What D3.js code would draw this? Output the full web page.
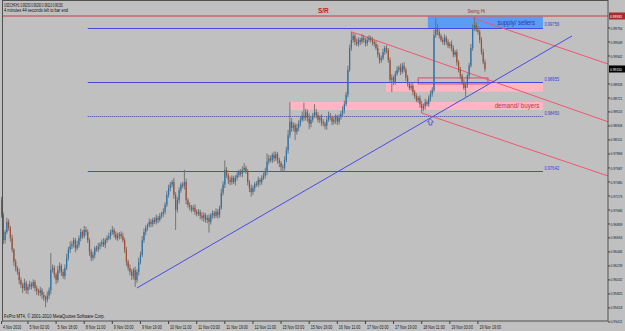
<!DOCTYPE html>
<html>
<head>
<meta charset="utf-8">
<script src="https://cdn.jsdelivr.net/npm/d3@7"></script>
<style>
body { margin: 0; background: #c0c0c0; }
svg { display: block; }
text { font-family: "Liberation Sans", Arial, sans-serif; }
</style>
</head>
<body>
<svg width="625" height="331"></svg>
<script>
// USDCHF H1, 4 Nov - 19 Nov 2010, prices in pips (x 0.0001)
const symbol = "USDCHF,H1";
const firstOpen = 9721;
const closes = [
    9699,9662,9674,9689,9680,9665,9648,9630,9621,9615,
    9603,9596,9591,9599,9588,9593,9597,9594,9600,9591,
    9587,9584,9588,9581,9577,9574,9580,9588,9618,9621,
    9611,9603,9618,9624,9615,9609,9621,9636,9648,9653,
    9656,9662,9650,9655,9665,9674,9668,9677,9674,9662,
    9645,9636,9640,9650,9648,9653,9656,9659,9655,9662,
    9665,9668,9674,9677,9671,9665,9668,9671,9668,9662,
    9648,9630,9621,9615,9609,9618,9603,9615,9630,9640,
    9662,9674,9680,9684,9689,9686,9692,9689,9695,9692,
    9698,9701,9704,9714,9729,9739,9744,9748,9729,9707,
    9721,9736,9744,9742,9748,9721,9714,9711,9707,9710,
    9704,9701,9704,9698,9695,9699,9692,9695,9689,9699,
    9702,9698,9704,9699,9710,9732,9744,9766,9758,9751,
    9748,9754,9748,9754,9758,9763,9760,9766,9769,9763,
    9748,9739,9733,9739,9745,9744,9751,9748,9754,9757,
    9763,9778,9783,9780,9788,9783,9789,9780,9776,9770,
    9769,9780,9795,9817,9837,9828,9832,9822,9828,9834,
    9840,9846,9843,9851,9843,9834,9840,9846,9851,9847,
    9840,9843,9837,9834,9831,9840,9846,9843,9837,9840,
    9844,9837,9843,9849,9854,9863,9877,9914,9946,9958,
    9964,9955,9952,9958,9955,9961,9958,9953,9958,9961,
    9958,9955,9952,9946,9936,9928,9931,9940,9946,9943,
    9928,9899,9902,9896,9908,9914,9917,9911,9920,9914,
    9902,9893,9887,9890,9881,9875,9869,9872,9863,9857,
    9860,9866,9863,9872,9878,9884,9965,9976,9970,9964,
    9958,9955,9961,9955,9949,9952,9946,9936,9940,9925,
    9914,9905,9896,9887,9891,9905,9920,9946,9976,9980,
    9973,9970,9958,9940,9925,9915
];
// wick above / below the body, pips
const upWicks = [
    5,4,3,6,4,3,5,2,4,3,5,4,3,6,3,4,5,3,4,3,
    4,3,5,3,4,3,6,4,25,5,4,3,6,5,3,4,5,6,4,7,
    5,4,3,6,4,5,3,6,5,4,3,4,5,3,4,5,3,4,6,3,
    4,5,4,6,3,4,5,3,4,5,3,4,3,5,4,3,5,4,6,5,
    6,5,4,3,5,4,3,4,5,3,4,3,5,4,6,5,4,3,6,4,
    5,4,3,4,18,5,3,4,3,4,5,3,4,3,5,4,3,4,5,3,
    4,3,5,4,3,6,5,14,4,3,5,4,3,4,5,3,4,5,7,3,
    4,3,5,4,3,4,5,3,4,5,6,12,5,4,3,5,4,3,4,3,
    4,6,5,8,29,5,4,3,6,5,4,6,19,5,4,6,5,4,12,5,
    4,3,5,4,3,5,6,4,3,5,4,3,5,4,6,5,4,6,5,12,
    4,3,5,4,3,6,4,3,5,4,3,4,3,4,5,3,4,5,3,4,
    3,4,5,3,4,5,3,6,4,5,3,4,3,4,5,3,4,3,4,5,
    4,5,3,4,5,4,8,14,5,4,3,4,5,3,4,3,5,4,3,4,
    3,4,3,4,5,3,4,6,5,12,4,5,3,4,5,4
];
const dnWicks = [
    4,6,5,3,4,5,4,6,5,4,6,5,7,4,5,6,4,5,3,5,
    6,4,5,6,5,11,4,5,6,4,5,6,4,5,6,4,5,3,4,5,
    4,5,6,3,4,5,4,3,5,4,6,5,4,5,3,4,5,4,3,5,
    4,3,5,4,5,3,4,5,4,3,5,6,4,5,6,5,10,4,5,4,
    3,4,5,4,3,5,4,3,4,5,3,4,5,4,3,4,5,4,6,30,
    4,5,4,3,5,6,4,5,4,3,5,4,3,5,4,6,4,5,16,4,
    5,4,3,5,4,3,4,5,4,6,5,4,3,5,4,3,4,5,4,3,
    5,6,7,4,5,3,4,5,4,3,4,5,4,3,4,5,4,5,6,7,
    5,4,3,5,4,6,5,12,4,5,4,3,5,4,6,8,5,4,3,5,
    4,5,6,4,5,6,3,4,5,4,6,5,4,3,4,5,3,4,3,4,
    4,5,3,4,5,3,4,5,4,3,4,5,4,3,4,5,4,3,4,5,
    4,3,18,5,4,3,4,5,3,4,5,4,3,4,5,4,3,4,5,7,
    4,5,3,4,5,4,3,4,5,4,3,4,5,4,3,4,5,4,3,5,
    4,5,4,3,13,4,5,3,4,5,3,4,5,4,3,4
];

const priceTicks = [0.99756, 0.99549, 0.99342, 0.99135, 0.98928, 0.98721, 0.98515, 0.98308,
    0.98101, 0.97894, 0.97687, 0.97480, 0.97273, 0.97066, 0.96859, 0.96653, 0.96446,
    0.96239, 0.96032, 0.95825, 0.95618, 0.95411];
const timeLabels = ["4 Nov 2010", "5 Nov 02:00", "5 Nov 18:00", "8 Nov 11:00", "9 Nov 03:00",
    "9 Nov 19:00", "10 Nov 11:00", "11 Nov 03:00", "11 Nov 19:00", "12 Nov 11:00",
    "15 Nov 03:00", "15 Nov 19:00", "16 Nov 11:00", "17 Nov 03:00", "17 Nov 19:00",
    "18 Nov 11:00", "19 Nov 03:00", "19 Nov 19:00"];
const timeLabelBars = [0, 15, 31, 47, 63, 79, 95, 111, 127, 143, 159, 175, 191, 207, 223, 239, 255, 271];

// chart objects: bar index / price
const srLevel = 0.99933;
const levelPrices = [0.99756, 0.98955, 0.98450, 0.97642];
const levelBars = [49, 308];
const supplyZone = [242.5, 308, 0.99925, 0.99756];
const demandZones = [[218.7, 308, 0.98950, 0.98815], [164, 308, 0.98662, 0.98544]];
const outlineBox = [237, 276.7, 0.99018, 0.98929];
const redRays = [[199, 0.99700, 345, 0.98370], [268, 0.99904, 345, 0.99224], [239, 0.98500, 345, 0.97569]];
const blueTrend = [77, 0.95913, 324.5, 0.99638];
const arrowMark = [244, 0.98426];

const svg = d3.select("svg"),
    width = +svg.attr("width"),
    height = +svg.attr("height");

const plotRight = 608, plotBottom = 321;
const x = d3.scaleLinear().domain([0, 345]).range([1.6, plotRight]);
const y = d3.scaleLinear().domain([0.95425, 1.00140]).range([plotBottom, 2]);
const pip = v => v / 10000;
const fmt = v => v.toFixed(5);

// small terminal font: squeeze text to the width it takes in the picture
function tiny(sel, perChar) {
    sel.attr('textLength', function() { return this.textContent.length * perChar; })
        .attr('lengthAdjust', 'spacingAndGlyphs');
    return sel;
}

const bars = closes.map((c, i) => {
    const o = i === 0 ? firstOpen : closes[i - 1];
    return {
        i: i,
        o: pip(o),
        c: pip(c),
        h: pip(Math.max(o, c) + upWicks[i]),
        l: pip(Math.min(o, c) - dnWicks[i])
    };
});

svg.append('defs').append('clipPath').attr('id', 'plotClip')
    .append('rect').attr('x', 2.5).attr('y', 0.5).attr('width', plotRight - 2.5).attr('height', plotBottom - 0.5);

const objects = svg.append('g').attr('clip-path', 'url(#plotClip)');

// zones behind the candles
objects.append('rect')
    .attr('x', x(supplyZone[0])).attr('width', x(supplyZone[1]) - x(supplyZone[0]))
    .attr('y', y(supplyZone[2])).attr('height', y(supplyZone[3]) - y(supplyZone[2]))
    .attr('fill', '#5c9cf0');
objects.selectAll('rect.demand')
    .data(demandZones)
    .enter().append('rect')
    .attr('class', 'demand')
    .attr('x', d => x(d[0])).attr('width', d => x(d[1]) - x(d[0]))
    .attr('y', d => y(d[2])).attr('height', d => y(d[3]) - y(d[2]))
    .attr('fill', '#ffb6c4');
objects.append('rect')
    .attr('x', x(outlineBox[0])).attr('width', x(outlineBox[1]) - x(outlineBox[0]))
    .attr('y', y(outlineBox[2])).attr('height', y(outlineBox[3]) - y(outlineBox[2]))
    .attr('fill', 'none').attr('stroke', '#d0506e').attr('stroke-width', 1);

// S/R line
objects.append('line')
    .attr('x1', 0).attr('x2', plotRight)
    .attr('y1', y(srLevel)).attr('y2', y(srLevel))
    .attr('stroke', '#c83c46').attr('stroke-width', 1);

// horizontal levels
objects.selectAll('line.level')
    .data(levelPrices)
    .enter().append('line')
    .attr('class', 'level')
    .attr('x1', x(levelBars[0])).attr('x2', x(levelBars[1]))
    .attr('y1', d => Math.round(y(d)) + 0.5).attr('y2', d => Math.round(y(d)) + 0.5)
    .attr('stroke', (d, i) => i === 2 ? '#3a44a8' : '#4848e0')
    .attr('stroke-dasharray', (d, i) => i === 2 ? '1,1' : null)
    .attr('stroke-width', 1);

// trend lines
objects.selectAll('line.ray')
    .data(redRays)
    .enter().append('line')
    .attr('class', 'ray')
    .attr('x1', d => x(d[0])).attr('y1', d => y(d[1]))
    .attr('x2', d => x(d[2])).attr('y2', d => y(d[3]))
    .attr('stroke', '#f0566e').attr('stroke-width', 1);
objects.append('line')
    .attr('x1', x(blueTrend[0])).attr('y1', y(blueTrend[1]))
    .attr('x2', x(blueTrend[2])).attr('y2', y(blueTrend[3]))
    .attr('stroke', '#4a4ae6').attr('stroke-width', 1);

// candles
const candles = svg.append('g').attr('class', 'candles');
candles.selectAll('line')
    .data(bars)
    .enter().append('line')
    .attr('x1', d => x(d.i)).attr('x2', d => x(d.i))
    .attr('y1', d => y(d.h)).attr('y2', d => y(d.l))
    .attr('stroke', '#6c6c6c').attr('stroke-width', 0.9);
candles.selectAll('rect')
    .data(bars)
    .enter().append('rect')
    .attr('x', d => x(d.i) - 0.6)
    .attr('width', 1.2)
    .attr('y', d => y(Math.max(d.o, d.c)))
    .attr('height', d => Math.max(0.8, Math.abs(y(d.o) - y(d.c))))
    .attr('fill', d => d.c >= d.o ? '#2474b4' : '#a84a2c');

// arrow below the trend line touch
svg.append('path')
    .attr('transform', `translate(${x(arrowMark[0])},${y(arrowMark[1]) + 1})`)
    .attr('d', 'M0,0 L3,3 L1.4,3 L1.4,6 L-1.4,6 L-1.4,3 L-3,3 Z')
    .attr('fill', 'none').attr('stroke', '#4a4ae6').attr('stroke-width', 0.8);

// object texts
svg.append('text')
    .attr('x', x(180)).attr('y', y(srLevel) - 3)
    .attr('font-size', 6.5).attr('font-weight', 'bold').attr('fill', '#c02030')
    .text('S/R');
tiny(svg.append('text')
    .attr('x', x(265)).attr('y', y(srLevel) - 3)
    .attr('font-size', 4.5).attr('fill', '#8a3a3a')
    .text('Swing Hi'), 2.2);
tiny(svg.append('text')
    .attr('x', x(303.5)).attr('y', (y(supplyZone[2]) + y(supplyZone[3])) / 2 + 2.5)
    .attr('text-anchor', 'end').attr('font-size', 7).attr('fill', '#2a36b0')
    .text('supply/ sellers'), 2.5);
tiny(svg.append('text')
    .attr('x', x(306)).attr('y', (y(demandZones[1][2]) + y(demandZones[1][3])) / 2 + 2.5)
    .attr('text-anchor', 'end').attr('font-size', 7.5).attr('fill', '#b83a50')
    .text('demand/ buyers'), 3.2);
tiny(svg.selectAll('text.levelLabel')
    .data(levelPrices)
    .enter().append('text')
    .attr('class', 'levelLabel')
    .attr('x', x(levelBars[1]) + 1.5).attr('y', d => y(d) - 1.5)
    .attr('font-size', 4.6).attr('fill', '#3a3ad8')
    .text(d => fmt(d)), 2.1);

// frame
svg.append('rect')
    .attr('x', 2.5).attr('y', 0.5).attr('width', plotRight - 2.5).attr('height', plotBottom - 0.5)
    .attr('fill', 'none').attr('stroke', '#505050').attr('stroke-width', 1);

// price axis
const last = bars[bars.length - 1];
const priceAxis = svg.append('g');
const shownTicks = priceTicks.filter(p => Math.abs(y(p) - y(last.c)) > 6 && Math.abs(y(p) - y(srLevel)) > 6);
priceAxis.selectAll('line')
    .data(shownTicks)
    .enter().append('line')
    .attr('x1', plotRight).attr('x2', plotRight + 2)
    .attr('y1', d => y(d)).attr('y2', d => y(d))
    .attr('stroke', '#404040');
tiny(priceAxis.selectAll('text')
    .data(shownTicks)
    .enter().append('text')
    .attr('x', plotRight + 2.5).attr('y', d => y(d)).attr('dy', '0.35em')
    .attr('font-size', 4.4).attr('fill', '#1a1a1a')
    .text(d => fmt(d)), 1.7);

[[srLevel, '#a82a2a'], [last.c, '#000000']].forEach(([p, bg]) => {
    priceAxis.append('rect')
        .attr('x', plotRight + 1).attr('y', y(p) - 3.5).attr('width', 16).attr('height', 7)
        .attr('fill', bg);
    tiny(priceAxis.append('text')
        .attr('x', plotRight + 2).attr('y', y(p)).attr('dy', '0.35em')
        .attr('font-size', 4.4).attr('fill', '#ffffff')
        .text(fmt(p)), 1.7);
});

// time axis
const timeAxis = svg.append('g');
timeAxis.selectAll('line')
    .data(timeLabelBars)
    .enter().append('line')
    .attr('x1', d => x(d)).attr('x2', d => x(d))
    .attr('y1', plotBottom).attr('y2', plotBottom + 3)
    .attr('stroke', '#404040');
tiny(timeAxis.selectAll('text')
    .data(timeLabels)
    .enter().append('text')
    .attr('x', (d, i) => x(timeLabelBars[i]) + 1.5).attr('y', plotBottom + 7.5)
    .attr('font-size', 4.6).attr('fill', '#1a1a1a')
    .text(d => d), 1.8);

// header and footer
tiny(svg.append('text')
    .attr('x', 4).attr('y', 6.5).attr('font-size', 4.6).attr('fill', '#101010')
    .text(`${symbol}  ${fmt(last.o)} ${fmt(last.h)} ${fmt(last.l)} ${fmt(last.c)}`), 1.4);
tiny(svg.append('text')
    .attr('x', 4).attr('y', 12).attr('font-size', 4.6).attr('fill', '#101010')
    .text('4 minutes 44 seconds left to bar end'), 1.78);
tiny(svg.append('text')
    .attr('x', 4).attr('y', plotBottom - 3).attr('font-size', 4.6).attr('fill', '#101010')
    .text('FxPro MT4, \u00a9 2001-2010 MetaQuotes Software Corp.'), 2.1);
</script>
</body>
</html>
